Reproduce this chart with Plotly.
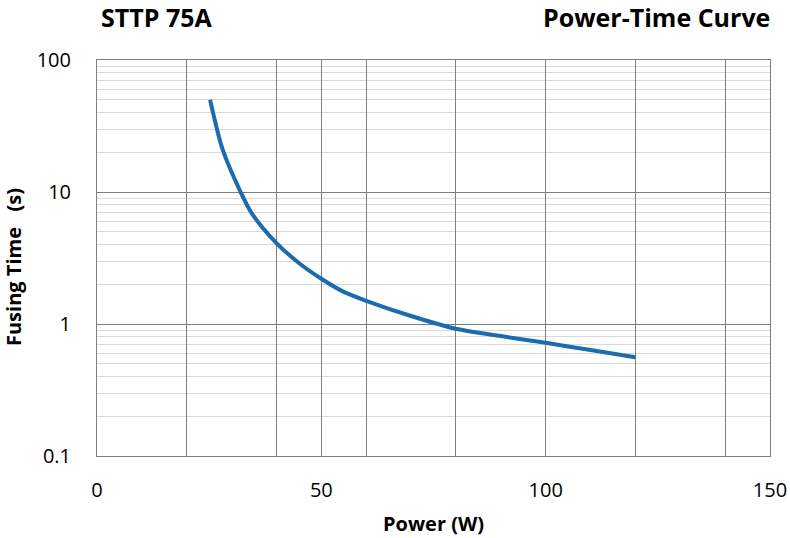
import plotly.graph_objects as go

power_w = [25.2, 28, 32, 34.5, 40, 45, 50, 55, 60, 70, 80, 90, 100, 110, 120]
fusing_time_s = [50, 21, 10, 6.9, 4.1, 2.9, 2.2, 1.75, 1.5, 1.15, 0.92, 0.81, 0.72, 0.635, 0.56]

x_grid_vals = [0, 20, 40, 50, 60, 80, 100, 120, 140, 150]
x_grid_text = ["0", "", "", "50", "", "", "100", "", "", "150"]
y_tick_vals = [0.1, 1, 10, 100]
y_tick_text = ["0.1", "1", "10", "100"]

FONT = "Open Sans, Noto Sans, sans-serif"

fig = go.Figure()
fig.add_trace(go.Scatter(
    x=power_w, y=fusing_time_s, mode="lines",
    line=dict(color="#1B6BAE", width=4, shape="spline", smoothing=0.8),
    showlegend=False, hoverinfo="skip",
))

fig.update_layout(
    width=790, height=538,
    margin=dict(l=97, r=20, t=60, b=82, autoexpand=False),
    paper_bgcolor="white", plot_bgcolor="white",
    font=dict(family=FONT, color="#000000"),
    xaxis=dict(
        range=[0, 150], tickmode="array", tickvals=x_grid_vals, ticktext=x_grid_text,
        showgrid=True, gridcolor="#7F7F7F", gridwidth=1,
        showline=True, linecolor="#7F7F7F", linewidth=1, mirror=True,
        zeroline=False, ticks="", ticklabelstandoff=16, automargin=False,
        tickfont=dict(size=20, family=FONT),
    ),
    yaxis=dict(
        type="log", range=[-1, 2], tickmode="array", tickvals=y_tick_vals, ticktext=y_tick_text,
        showgrid=True, gridcolor="#7F7F7F", gridwidth=1,
        minor=dict(dtick="D1", showgrid=True, gridcolor="#D9D9D9", gridwidth=1, ticks=""),
        showline=True, linecolor="#7F7F7F", linewidth=1, mirror=True,
        zeroline=False, ticks="", ticklabelstandoff=21, automargin=False,
        tickfont=dict(size=20, family=FONT),
    ),
)
fig.add_annotation(text="<b>STTP 75A</b>", xref="paper", yref="paper", x=0.0, y=1.0,
                   xanchor="left", yanchor="middle", yshift=43, xshift=2, showarrow=False,
                   font=dict(size=25, family=FONT))
fig.add_annotation(text="<b>Power-Time Curve</b>", xref="paper", yref="paper", x=1.0, y=1.0,
                   xanchor="right", yanchor="middle", yshift=43, xshift=2, showarrow=False,
                   font=dict(size=25, family=FONT))
fig.add_annotation(text="<b>Power (W)</b>", xref="paper", yref="paper", x=0.5, y=0.0,
                   xanchor="center", yanchor="middle", yshift=-67, showarrow=False,
                   font=dict(size=20, family=FONT))
fig.add_annotation(text="<b>Fusing Time&nbsp;&nbsp;&nbsp;(s)</b>", xref="paper", yref="paper",
                   x=0.0, y=0.5, xanchor="center", yanchor="middle", xshift=-84, yshift=-9,
                   textangle=-90, showarrow=False, font=dict(size=20, family=FONT))

fig.write_html("out.html")
